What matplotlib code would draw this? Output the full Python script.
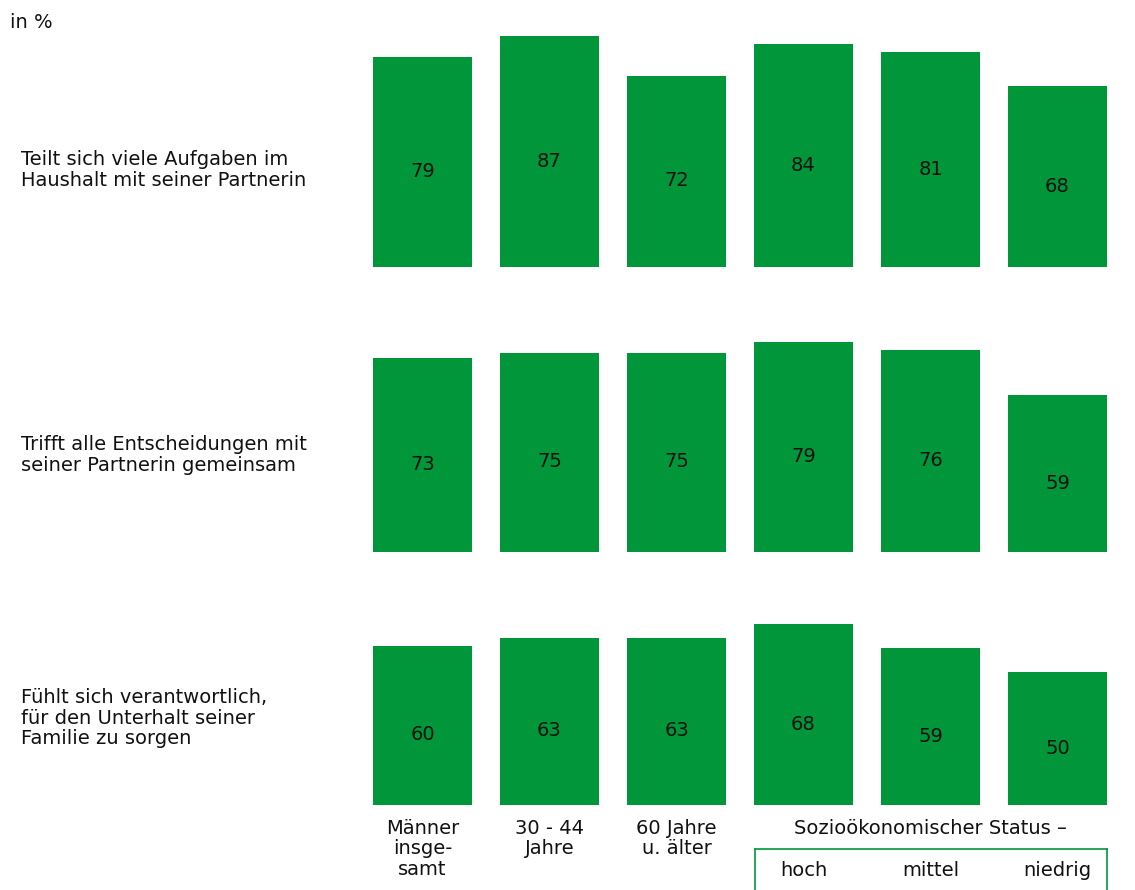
import numpy as np
import matplotlib.pyplot as plt
from matplotlib.lines import Line2D
from matplotlib import transforms

plt.rcParams['font.family'] = ['DejaVu Sans']

# 데이터
gruppen = ['Männer\ninsge-\nsamt', '30 - 44\nJahre', '60 Jahre\nu. älter', 'hoch', 'mittel', 'niedrig']
aussagen = ['Teilt sich viele Aufgaben im\nHaushalt mit seiner Partnerin',
            'Trifft alle Entscheidungen mit\nseiner Partnerin gemeinsam',
            'Fühlt sich verantwortlich,\nfür den Unterhalt seiner\nFamilie zu sorgen']
werte_haushalt = [79, 87, 72, 84, 81, 68]
werte_entscheidung = [73, 75, 75, 79, 76, 59]
werte_unterhalt = [60, 63, 63, 68, 59, 50]
status_titel = 'Sozioökonomischer Status –'

gruen = '#009639'
txt = '#111111'
W, H = 1135, 890
fig = plt.figure(figsize=(W / 100, H / 100), dpi=100)

# 각 행의 기준선 (픽셀, 위에서부터)
basis = [267, 552, 805]
label_y = [170, 455, 718]
reihen = [werte_haushalt, werte_entscheidung, werte_unterhalt]

x = np.arange(len(gruppen))
for i, werte in enumerate(reihen):
    ax = fig.add_axes([359 / W, 1 - basis[i] / H, 762 / W, 265.5 / H])
    ax.bar(x, werte, width=0.78, color=gruen)
    for xi, v in zip(x, werte):
        ax.text(xi, v / 2 - 3.6, str(v), ha='center', va='center', fontsize=14, color=txt)
    ax.set_xlim(-0.5, 5.5)
    ax.set_ylim(0, 100)
    ax.axis('off')
    fig.text(21 / W, 1 - label_y[i] / H, aussagen[i], ha='left', va='center',
             fontsize=14, linespacing=1.08, color=txt)
    if i == 2:
        trans = transforms.blended_transform_factory(ax.transData, fig.transFigure)
        for xi in range(3):
            ax.text(xi, 1 - 819 / H, gruppen[xi], ha='center', va='top', transform=trans,
                    fontsize=14, linespacing=1.1, color=txt)
        for xi in range(3, 6):
            ax.text(xi, 1 - 870 / H, gruppen[xi], ha='center', va='center', transform=trans,
                    fontsize=14, color=txt)
        ax.text(4, 1 - 828 / H, status_titel, ha='center', va='center', transform=trans,
                fontsize=14, color=txt)

fig.text(10 / W, 1 - 22 / H, 'in %', ha='left', va='center', fontsize=14, color=txt)

# 상태 구분 박스
lw = 1.2
fig.add_artist(Line2D([755 / W, 1107 / W], [1 - 849 / H, 1 - 849 / H], color=gruen, lw=lw))
fig.add_artist(Line2D([755 / W, 755 / W], [1 - 849 / H, 0], color=gruen, lw=lw))
fig.add_artist(Line2D([1107 / W, 1107 / W], [1 - 849 / H, 0], color=gruen, lw=lw))

plt.savefig('out.png', dpi=100)
